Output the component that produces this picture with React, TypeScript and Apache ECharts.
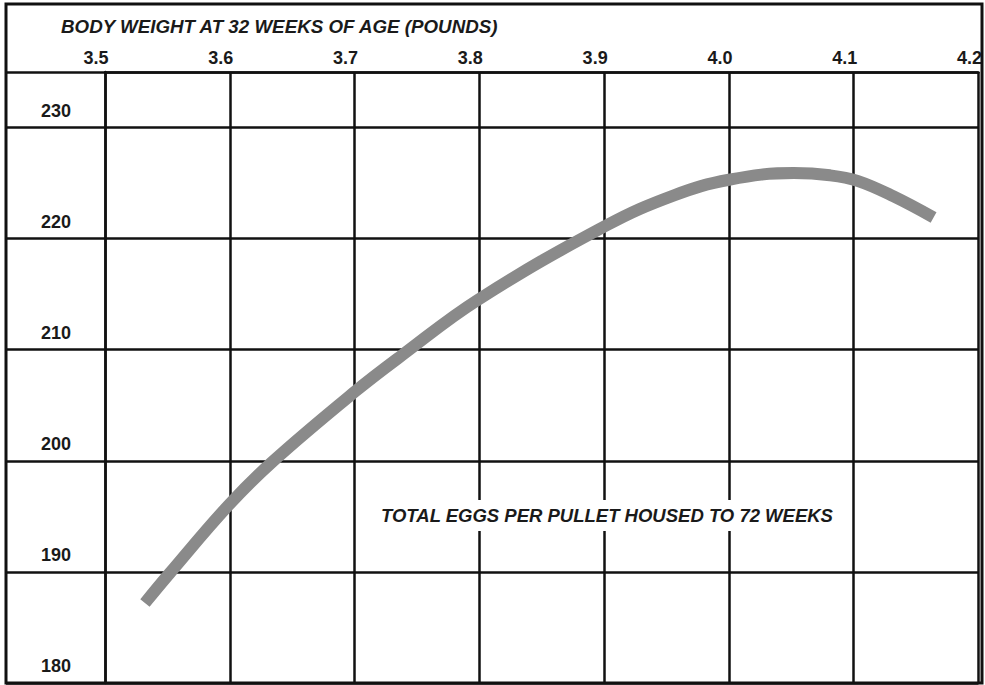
import React, { useEffect, useRef } from 'react';
import * as echarts from 'echarts';

// Body weight at 32 weeks (pounds) and total eggs per pullet housed to 72 weeks
const bodyWeight = [
  3.532, 3.552, 3.599, 3.634, 3.7, 3.738, 3.799, 3.902, 3.956, 4.0, 4.052, 4.081,
  4.103, 4.132, 4.164,
];
const totalEggs = [
  187.2, 189.9, 196.0, 199.9, 206.2, 209.5, 214.5, 221.2, 223.9, 225.3, 225.9, 225.7,
  225.2, 223.8, 221.9,
];

const xTitle = 'BODY WEIGHT AT 32 WEEKS OF AGE (POUNDS)';
const seriesLabel = 'TOTAL EGGS PER PULLET HOUSED TO 72 WEEKS';

const FONT = "'Liberation Sans', Arial, sans-serif";

export default function App() {
  const ref = useRef<HTMLDivElement>(null);
  useEffect(() => {
    if (!ref.current) return;
    const chart = echarts.init(ref.current, undefined, { renderer: 'svg' });
    const data = bodyWeight.map((x, i) => [x, totalEggs[i]]);
    const lineStyle = { color: '#111', width: 2.5 };
    chart.setOption({
      animation: false,
      backgroundColor: '#fff',
      title: [
        {
          text: xTitle,
          left: 61,
          top: 17,
          padding: 0,
          textStyle: {
            fontFamily: FONT,
            fontSize: 18.75,
            fontStyle: 'italic',
            fontWeight: 'bold',
            color: '#1a1a1a',
          },
        },
        {
          text: seriesLabel,
          left: 376,
          top: 500,
          padding: [6, 5],
          backgroundColor: '#fff',
          textStyle: {
            fontFamily: FONT,
            fontSize: 18.5,
            fontStyle: 'italic',
            fontWeight: 'bold',
            color: '#1a1a1a',
          },
        },
      ],
      grid: { left: 105, right: 3, top: 72, bottom: 2, containLabel: false },
      xAxis: {
        type: 'value',
        position: 'top',
        min: 3.5,
        max: 4.2,
        interval: 0.1,
        axisLine: { show: true, lineStyle },
        axisTick: { show: false },
        splitLine: { show: true, lineStyle },
        axisLabel: {
          formatter: (v: number) => v.toFixed(1),
          fontFamily: FONT,
          fontSize: 18,
          fontWeight: 'bold',
          color: '#1a1a1a',
          margin: 5,
          padding: [0, 18, 0, 0],
          showMaxLabel: true,
          showMinLabel: true,
        },
      },
      yAxis: {
        type: 'value',
        min: 180,
        max: 235,
        interval: 10,
        axisLine: { show: true, lineStyle },
        axisTick: { show: true, inside: false, length: 99, lineStyle },
        splitLine: { show: true, lineStyle },
        axisLabel: {
          formatter: (v: number) => (v % 10 === 0 ? String(v) : ''),
          fontFamily: FONT,
          fontSize: 18,
          fontWeight: 'bold',
          color: '#1a1a1a',
          margin: 34,
          verticalAlign: 'bottom',
          padding: [0, 0, 8, 0],
        },
      },
      graphic: [
        {
          type: 'rect',
          shape: { x: 6, y: 4, width: 976, height: 679 },
          style: { fill: 'none', stroke: '#111', lineWidth: 3 },
          z: 100,
        },
      ],
      series: [
        {
          type: 'line',
          data,
          smooth: 0.4,
          showSymbol: false,
          symbol: 'none',
          lineStyle: { color: '#8a8a8a', width: 12, cap: 'butt' },
          z: 3,
        },
      ],
    });
    return () => chart.dispose();
  }, []);
  return (
    <div
      ref={ref}
      style={{ position: 'absolute', left: 0, top: 0, width: 985, height: 685 }}
    />
  );
}
